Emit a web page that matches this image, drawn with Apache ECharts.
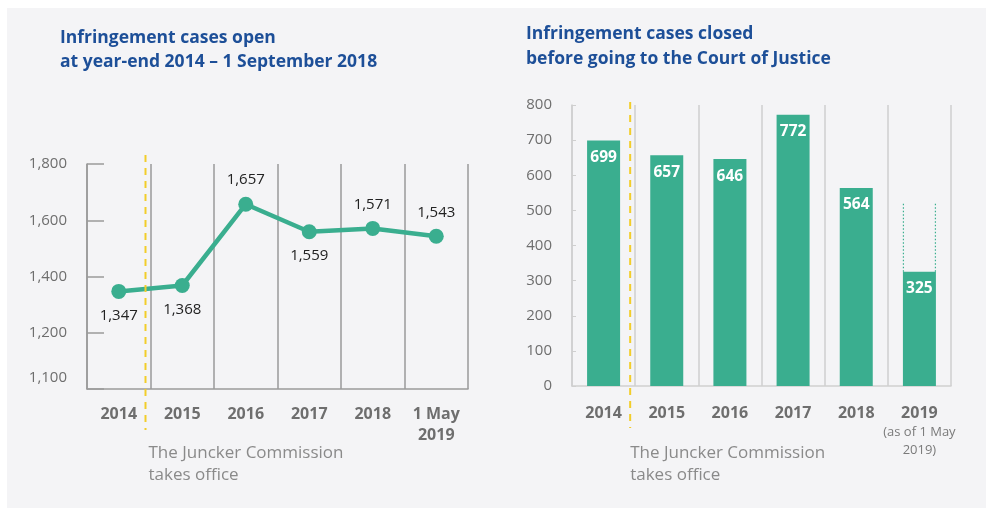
<!DOCTYPE html>
<html>
<head>
<meta charset="utf-8">
<script src="https://cdn.jsdelivr.net/npm/echarts@6/dist/echarts.min.js"></script>
<style>
  html, body { margin: 0; padding: 0; background: #fff; }
  #main { width: 995px; height: 517px; }
</style>
</head>
<body>
<div id="main"></div>
<script>
// data
var openYears = ['2014', '2015', '2016', '2017', '2018', '1 May\n2019'];
var openCases = [1347, 1368, 1657, 1559, 1571, 1543];
var openTicks = [1000, 1200, 1400, 1600, 1800];   // 1000 slot is shown as "1,100" (broken axis)

var closedYears = ['2014', '2015', '2016', '2017', '2018', '2019'];
var closedCases = [699, 657, 646, 772, 564, 325];
var projected2019 = 520;   // top of the dotted outline on the 2019 bar

var green = '#3aae8f';
var gray = '#6e6e6e';
var font = 'Open Sans';

var myChart = echarts.init(document.getElementById('main'));

function fmt(v) {
    return String(v).replace(/\B(?=(\d{3})+(?!\d))/g, ',');
}

// label above or below each point, as in the original
var labelBelow = [true, true, false, true, false, false];

option = {
    backgroundColor: '#fff',
    animation: false,
    textStyle: { fontFamily: font },
    title: [
        {
            text: 'Infringement cases open\nat year-end 2014 \u2013 1 September 2018',
            left: 60, top: 26, padding: 0,
            textStyle: { color: '#1d4f98', fontSize: 17.5, fontWeight: 'bold', lineHeight: 24, fontFamily: font }
        },
        {
            text: 'Infringement cases closed\nbefore going to the Court of Justice',
            left: 526, top: 22, padding: 0,
            textStyle: { color: '#1d4f98', fontSize: 17.5, fontWeight: 'bold', lineHeight: 25, fontFamily: font }
        }
    ],
    grid: [
        { left: 87, top: 164, width: 381, height: 225 },
        { left: 572, top: 105, width: 379, height: 281 }
    ],
    xAxis: [
        {
            type: 'category',
            gridIndex: 0,
            data: openYears,
            axisLine: { lineStyle: { color: '#9a9a9a', width: 1.5 } },
            axisTick: { show: false },
            splitLine: { show: true, lineStyle: { color: '#9a9a9a', width: 1.5 } },
            axisLabel: { interval: 0, color: gray, fontSize: 16, fontWeight: 'bold', margin: 15, lineHeight: 21 }
        },
        {
            type: 'category',
            gridIndex: 1,
            data: closedYears,
            axisLine: { lineStyle: { color: '#cfcfcf', width: 1.5 } },
            axisTick: { show: false },
            splitLine: { show: true, lineStyle: { color: '#cfcfcf', width: 1.5 } },
            axisLabel: {
                interval: 0,
                margin: 17,
                formatter: function (v, i) {
                    if (i === closedYears.length - 1) {
                        return '{y|' + v + '}\n{s|(as of 1 May}\n{s|2019)}';
                    }
                    return '{y|' + v + '}';
                },
                rich: {
                    y: { color: gray, fontSize: 16, fontWeight: 'bold', lineHeight: 20 },
                    s: { color: '#7a7a7a', fontSize: 13, lineHeight: 18 }
                }
            }
        }
    ],
    yAxis: [
        {
            type: 'value',
            gridIndex: 0,
            min: openTicks[0],
            max: openTicks[openTicks.length - 1],
            interval: 200,
            axisLine: { show: true, lineStyle: { color: '#9a9a9a', width: 1.5 } },
            axisTick: { show: true, inside: true, length: 17, lineStyle: { color: '#9a9a9a', width: 1.5 } },
            splitLine: { show: false },
            axisLabel: {
                margin: 20,
                formatter: function (v) {
                    if (v === openTicks[0]) return '{b|1,100}';
                    return '{a|' + fmt(v) + '}';
                },
                rich: {
                    a: { color: gray, fontSize: 15 },
                    b: { color: gray, fontSize: 15, padding: [0, 0, 22, 0] }
                }
            }
        },
        {
            type: 'value',
            gridIndex: 1,
            min: 0,
            max: 800,
            interval: 100,
            axisLine: { show: true, lineStyle: { color: '#cfcfcf', width: 1.5 } },
            axisTick: { show: true, inside: true, length: 4, lineStyle: { color: '#cfcfcf' } },
            splitLine: { show: false },
            axisLabel: { color: gray, fontSize: 15, margin: 20 }
        }
    ],
    series: [
        {
            name: 'open',
            type: 'line',
            xAxisIndex: 0,
            yAxisIndex: 0,
            data: openCases.map(function (v, i) {
                return {
                    value: v,
                    label: { position: labelBelow[i] ? 'bottom' : 'top', distance: 9 }
                };
            }),
            symbol: 'circle',
            symbolSize: 15,
            lineStyle: { color: green, width: 4.5 },
            itemStyle: { color: green },
            label: {
                show: true,
                color: '#222',
                fontSize: 15,
                formatter: function (p) { return fmt(p.value); }
            },
            z: 5
        },
        {
            name: 'closed',
            type: 'bar',
            xAxisIndex: 1,
            yAxisIndex: 1,
            data: closedCases,
            barWidth: 33,
            itemStyle: { color: green },
            label: {
                show: true,
                position: 'insideTop',
                distance: 9,
                color: '#fff',
                fontSize: 15.5,
                fontWeight: 'bold'
            }
        },
        {
            // dotted outline above the part-year 2019 bar
            name: 'outline',
            type: 'custom',
            xAxisIndex: 1,
            yAxisIndex: 1,
            data: [[closedYears.length - 1, closedCases[closedCases.length - 1], projected2019]],
            renderItem: function (params, api) {
                var lo = api.coord([api.value(0), api.value(1)]);
                var hi = api.coord([api.value(0), api.value(2)]);
                var hw = 16;
                var st = { stroke: green, lineWidth: 1.2, lineDash: [1.5, 2] };
                return {
                    type: 'group',
                    children: [
                        { type: 'line', shape: { x1: lo[0] - hw, y1: lo[1], x2: hi[0] - hw, y2: hi[1] }, style: st },
                        { type: 'line', shape: { x1: lo[0] + hw, y1: lo[1], x2: hi[0] + hw, y2: hi[1] }, style: st }
                    ]
                };
            },
            z: 3
        }
    ],
    graphic: [
        { type: 'rect', z: -10, silent: true, shape: { x: 7, y: 8, width: 979, height: 500 }, style: { fill: '#f4f4f6' } }
    ]
};
myChart.setOption(option);

// yellow "Juncker Commission" marker between 2014 and 2015 on each chart
function midX(xi, cats) {
    var a = myChart.convertToPixel({ xAxisIndex: xi }, cats[0]);
    var b = myChart.convertToPixel({ xAxisIndex: xi }, cats[1]);
    return (a + b) / 2;
}
var xl = midX(0, openYears) - 5, xr = midX(1, closedYears) - 5;
var dash = { stroke: '#f2cd2a', lineWidth: 2, lineDash: [7, 6] };
var noteStyle = { fill: '#8a8a8a', fontSize: 17, fontFamily: font, lineHeight: 22 };
myChart.setOption({
    graphic: [
        { type: 'rect', z: -10, silent: true, shape: { x: 7, y: 8, width: 979, height: 500 }, style: { fill: '#f4f4f6' } },
        { type: 'line', z: 10, shape: { x1: xl, y1: 155, x2: xl, y2: 430 }, style: dash },
        { type: 'line', z: 10, shape: { x1: xr, y1: 102, x2: xr, y2: 428 }, style: dash },
        { type: 'text', left: xl + 3, top: 442, style: Object.assign({ text: 'The Juncker Commission\ntakes office' }, noteStyle) },
        { type: 'text', left: xr, top: 442, style: Object.assign({ text: 'The Juncker Commission\ntakes office' }, noteStyle) }
    ]
});
</script>
</body>
</html>
